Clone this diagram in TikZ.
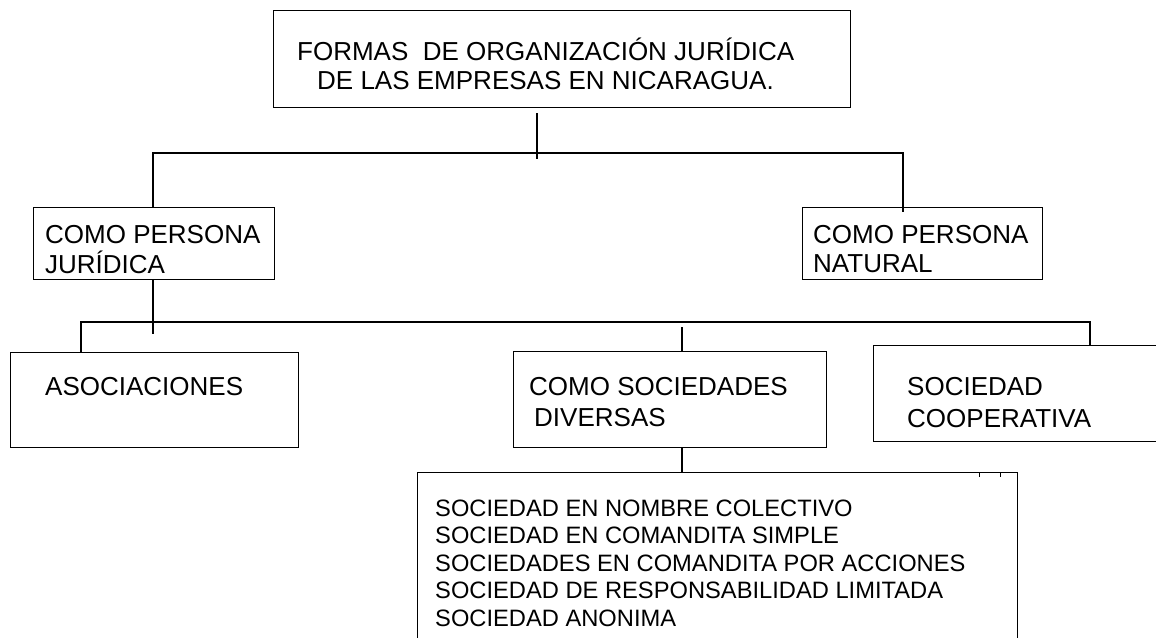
\documentclass[tikz,border=0pt]{standalone}
\usepackage{fontspec}
\setmainfont{Liberation Sans}
\begin{document}
\begin{tikzpicture}[x=1pt,y=-1pt,
  box/.style={draw, line width=1.2pt, inner sep=0pt, anchor=north west},
  lbl/.style={anchor=base west, inner sep=0pt, font=\fontsize{26}{30}\selectfont},
  small/.style={anchor=base west, inner sep=0pt, font=\fontsize{23.7}{27.5}\selectfont},
  conn/.style={line width=1.2pt}]
\useasboundingbox (0,0) rectangle (1156,637);
\clip (0,0) rectangle (1156,637);
\fill[white] (0,0) rectangle (1156,637);

% boxes
\node[box, minimum width=577pt, minimum height=97pt] (top) at (273,10) {};
\node[box, minimum width=241pt, minimum height=72pt] (jur) at (33,207) {};
\node[box, minimum width=240pt, minimum height=72pt] (nat) at (802,207) {};
\node[box, minimum width=288pt, minimum height=95pt] (aso) at (10,352) {};
\node[box, minimum width=313pt, minimum height=96pt] (div) at (513,351) {};
\node[box, minimum width=320pt, minimum height=96pt] (coop) at (873,345) {};
\node[box, minimum width=600pt, minimum height=220pt] (list) at (417,472) {};

% texts
\node[lbl] (t1) at (297,60) {FORMAS\ \ DE ORGANIZACIÓN JURÍDICA};
\node[lbl] (t2) at (317,89) {DE LAS EMPRESAS EN NICARAGUA.};
\node[lbl] (j1) at (45,243) {COMO PERSONA};
\node[lbl] (j2) at (45,273) {JURÍDICA};
\node[lbl] (n1) at (813,243) {COMO PERSONA};
\node[lbl] (n2) at (813,272) {NATURAL};
\node[lbl] (a1) at (45,395) {ASOCIACIONES};
\node[lbl] (d1) at (529,395) {COMO SOCIEDADES};
\node[lbl] (d2) at (534,426) {DIVERSAS};
\node[lbl] (c1) at (907,395) {SOCIEDAD};
\node[lbl] (c2) at (907,427) {COOPERATIVA};
\node[small] (l1) at (435,516) {SOCIEDAD EN NOMBRE COLECTIVO};
\node[small] (l2) at (435,543) {SOCIEDAD EN COMANDITA SIMPLE};
\node[small] (l3) at (435,571) {SOCIEDADES EN COMANDITA POR ACCIONES};
\node[small] (l4) at (435,598) {SOCIEDAD DE RESPONSABILIDAD LIMITADA};
\node[small] (l5) at (435,626) {SOCIEDAD ANONIMA};

% junction coordinates
\coordinate (h1M) at (537,153);
\coordinate (h1L) at (153,153);
\coordinate (h1R) at (903,153);
\coordinate (h2L) at (81,322);
\coordinate (h2M) at (682,322);
\coordinate (h2R) at (1090,322);

% connectors level 1
\draw[conn] ([yshift=-5pt]top.south -| h1M) -- ([yshift=-6pt]h1M);
\draw[conn] (jur.north -| h1L) -- (h1L) -- (h1R) -- ([yshift=-5pt]h1R |- nat.north);

% connectors level 2
\draw[conn] (jur.south -| h1L) -- ([yshift=-12pt]h1L |- h2L);
\draw[conn] (h2L |- aso.north) -- (h2L) -- (h2R) -- (h2R |- coop.north);
\draw[conn] ([yshift=-5pt]h2M) -- (h2M |- div.north);
\draw[conn] (h2M |- div.south) -- (h2M |- list.north);

% small marks under the list box top edge
\draw[line width=1pt] ([xshift=562pt]list.north west) -- ++(0,5);
\draw[line width=1pt] ([xshift=583pt]list.north west) -- ++(0,5);
\end{tikzpicture}
\end{document}
